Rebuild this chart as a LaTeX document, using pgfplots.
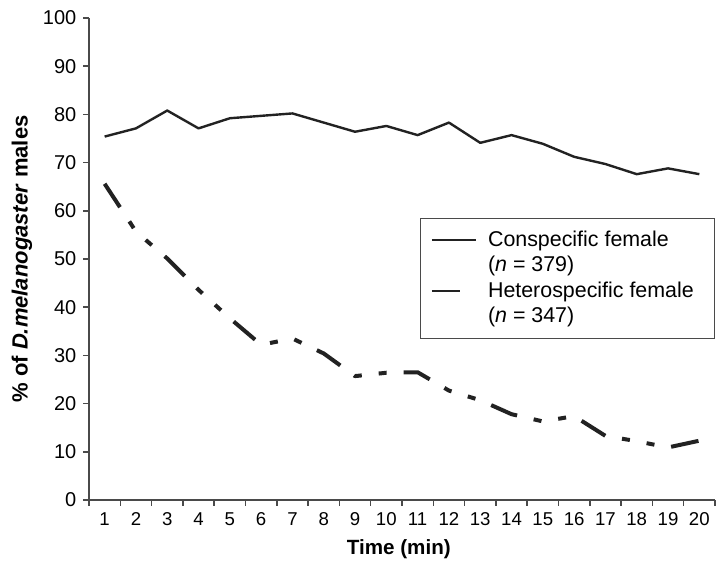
\documentclass[border=0pt]{standalone}
\usepackage{fontspec}
\setmainfont{Liberation Sans}
\usepackage{pgfplots}
\pgfplotsset{compat=1.18}

\definecolor{axisgray}{HTML}{4A4A4A}
\definecolor{lineblack}{HTML}{222222}

\begin{document}
\begin{tikzpicture}
\begin{axis}[
  scale only axis, width=313pt, height=241pt,
  at={(0,0)}, anchor=south west,
  xmin=0.5, xmax=20.5, ymin=0, ymax=100,
  axis x line=bottom, axis y line=left,
  axis line style={-, draw=axisgray, line width=0.75pt},
  xtick={1,...,20}, minor xtick={0.5,1.5,...,20.5},
  ytick={0,10,...,100},
  tick align=outside, major tick length=2.8pt, minor tick length=2.8pt,
  tick style={draw=axisgray, line width=0.75pt},
  major x tick style={draw=none},
  /pgf/number format/assume math mode=true,
  xticklabel style={font=\fontsize{9.3}{10}\selectfont, text=black},
  yticklabel style={font=\fontsize{10}{11}\selectfont, text=black},
  every axis x label/.style={at={(axis description cs:0.495,-0.102)}, anchor=center},
  every axis y label/.style={at={(axis description cs:-0.107,0.5)}, rotate=90, anchor=center},
  xlabel={\fontsize{10.3}{12}\selectfont\bfseries Time (min)},
  ylabel={\fontsize{11}{12}\selectfont\bfseries \% of \textit{D.melanogaster} males},
  legend style={at={(axis description cs:0.529,0.585)}, anchor=north west,
    draw=axisgray, line width=0.5pt, inner xsep=5pt, inner ysep=4.5pt,
    row sep=0pt,
    nodes={font=\fontsize{10.7}{12}\selectfont, text height=8.5pt, text depth=2.75pt, inner ysep=0.75pt, inner xsep=5.5pt}},
  legend cell align=left,
  legend image code/.code={\draw[#1, line width=1.2pt] (0pt,0pt) -- (22pt,0pt);},
]
\addplot[lineblack, line width=1.2pt, line join=round] coordinates {
(1,75.4) (2,77.1) (3,80.8) (4,77.1) (5,79.2) (6,79.7) (7,80.2) (8,78.3) (9,76.4) (10,77.6)
(11,75.7) (12,78.3) (13,74.1) (14,75.7) (15,73.9) (16,71.2) (17,69.7) (18,67.6) (19,68.8) (20,67.6)};
\addlegendentry{Conspecific female}
\addlegendimage{empty legend}
\addlegendentry{(\textit{n} = 379)}
\addplot[lineblack, line width=2pt, line join=round,
  dash pattern=on 14pt off 8.5pt on 4pt off 8.5pt on 4pt off 8.5pt] coordinates {
(1,65.6) (2,55.7) (3,50.1) (4,43.6) (5,37.7) (6,32.2) (7,33.5) (8,30.4) (9,25.7) (10,26.4)
(11,26.5) (12,22.7) (13,20.7) (14,17.8) (15,16.3) (16,17.4) (17,13.3) (18,12.2) (19,10.9) (20,12.3)};
\addlegendentry{Heterospecific female}
\addlegendimage{empty legend}
\addlegendentry{(\textit{n} = 347)}
\end{axis}
\pgfresetboundingbox
\path[use as bounding box] (-44.5pt,-30.5pt) rectangle (315.5pt,250pt);
\end{tikzpicture}
\end{document}
